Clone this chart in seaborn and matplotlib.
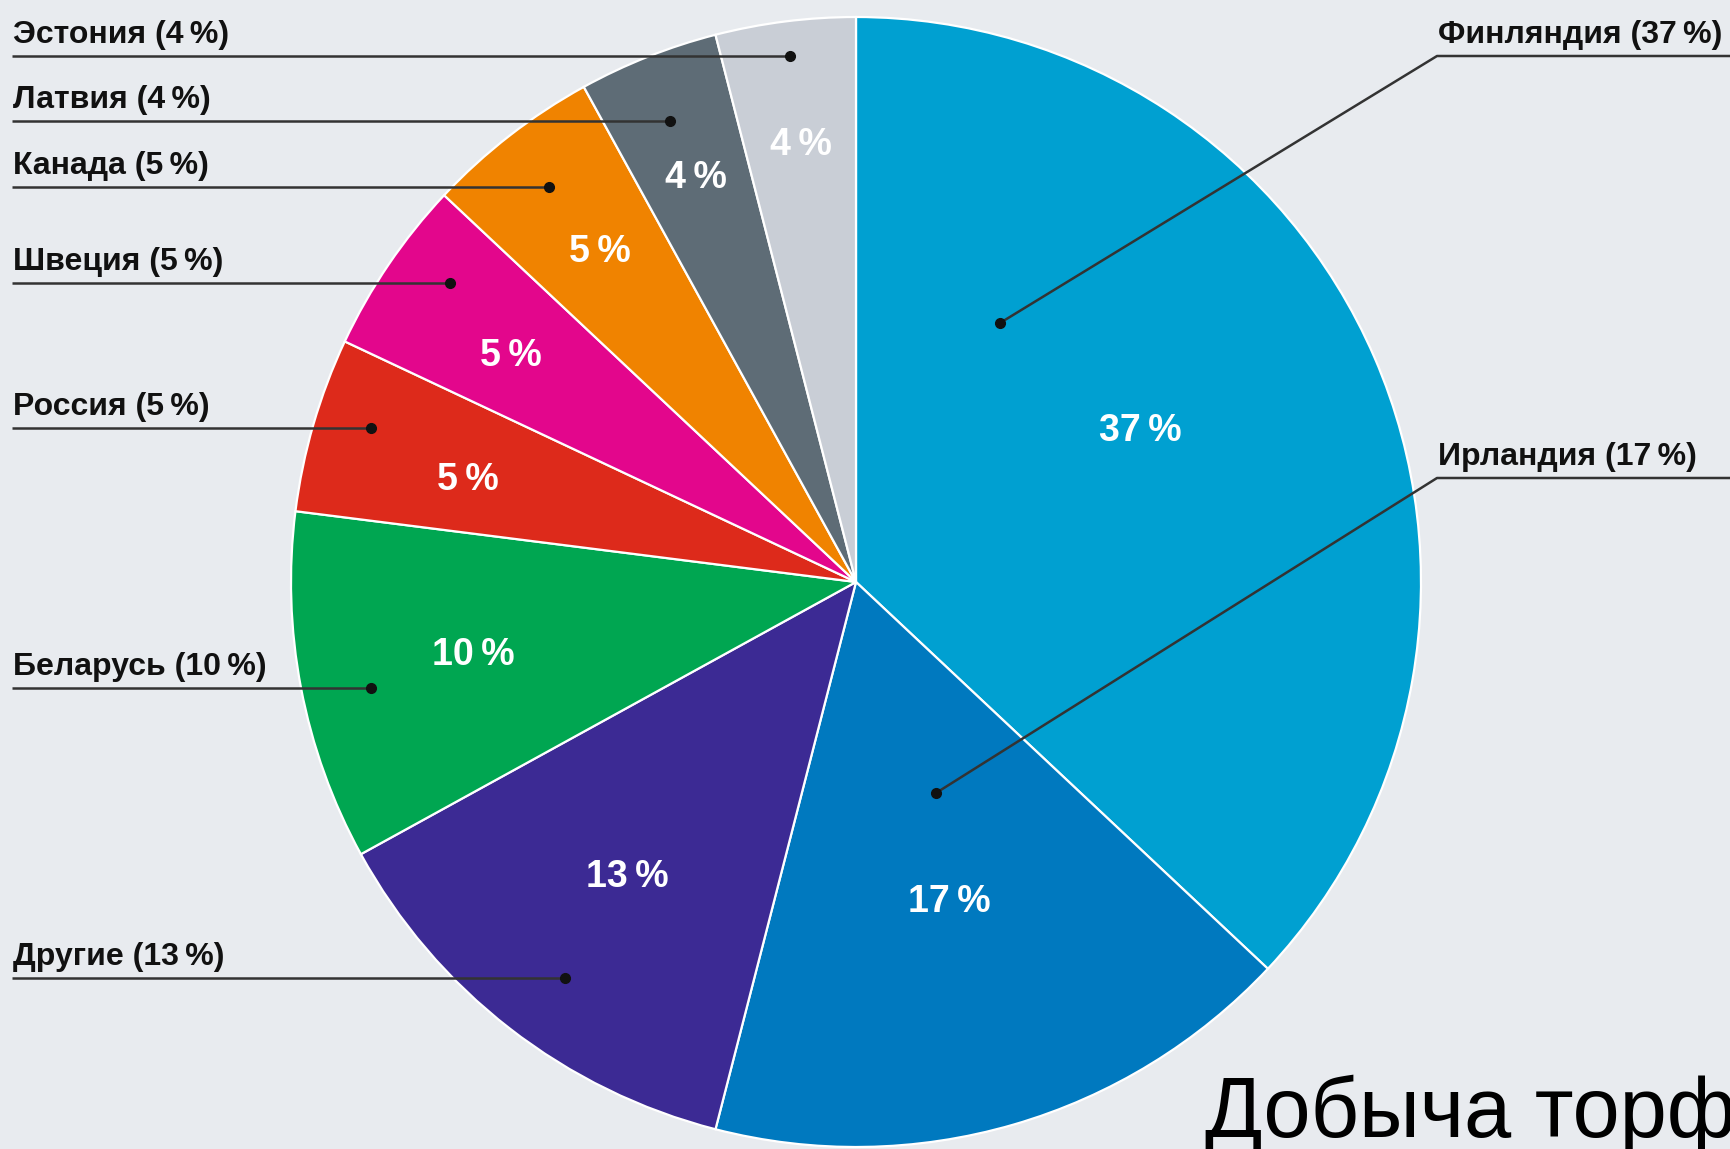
import matplotlib
matplotlib.use('Agg')

import numpy as np
import matplotlib.pyplot as plt
import seaborn as sns

# данные: доли стран в добыче торфа, по часовой стрелке от 12 часов
countries = ['Финляндия', 'Ирландия', 'Другие', 'Беларусь', 'Россия',
             'Швеция', 'Канада', 'Латвия', 'Эстония']
shares = [37, 17, 13, 10, 5, 5, 5, 4, 4]
colors = ['#00A0D1', '#0079BF', '#3C2A94', '#00A651', '#DD2A1B',
          '#E3068C', '#F08300', '#5E6C76', '#C9CED6']
title = 'Добыча торфа'

W, H = 1731, 1149
bg = '#E8EBEF'
thin = '\u2009'

sns.set_theme(style='white')
plt.rcParams['font.family'] = ['Liberation Sans', 'DejaVu Sans']
label_font = ['Liberation Sans', 'DejaVu Sans']

fig = plt.figure(figsize=(W / 100, H / 100), dpi=100, facecolor=bg)
ax = fig.add_axes([0, 0, 1, 1])
ax.set_facecolor(bg)

cx, cy, R = 856, 582, 565
# ось y перевёрнута (пиксельные координаты), поэтому старт -90 и против часовой
wedges, _ = ax.pie(shares, colors=colors, startangle=-90, counterclock=True,
                   center=(cx, cy), radius=R,
                   wedgeprops=dict(edgecolor='white', linewidth=1.6))
ax.set_xlim(0, W)
ax.set_ylim(H, 0)
ax.set_aspect('equal')
ax.axis('off')

# подписи процентов внутри секторов (доля радиуса, сдвиг угла в градусах)
pct_r = [0.57, 0.59, 0.66, 0.69, 0.71, 0.73, 0.74, 0.77, 0.78]
pct_dth = [-4.5, 0, 0, 0, -1.5, -1, 0, 0, 0]
for w, v, r, d in zip(wedges, shares, pct_r, pct_dth):
    th = np.deg2rad((w.theta1 + w.theta2) / 2 + d)
    ax.text(cx + r * R * np.cos(th), cy + r * R * np.sin(th), f'{v}{thin}%',
            color='white', fontsize=27, fontweight='bold', family=label_font,
            ha='center', va='center')

# выноски слева: (y линии, x точки)
left_layout = {
    'Эстония': (56, 790), 'Латвия': (121, 670), 'Канада': (187, 549),
    'Швеция': (283, 450), 'Россия': (428, 371), 'Беларусь': (688, 371),
    'Другие': (978, 565),
}
# выноски справа: (y линии, точка)
right_layout = {'Финляндия': (56, (1000, 323)), 'Ирландия': (478, (936, 793))}

line_c = '#333333'
for name, v in zip(countries, shares):
    lbl = f'{name} ({v}{thin}%)'
    if name in left_layout:
        ly, dx = left_layout[name]
        ax.plot([12, dx], [ly, ly], color=line_c, lw=1.8, solid_capstyle='butt')
        ax.plot(dx, ly, 'o', color='#111111', ms=7)
        ax.text(13, ly - 6, lbl, fontsize=23, fontweight='bold', family=label_font,
                color='#111111', ha='left', va='bottom')
    else:
        ly, (dx, dy) = right_layout[name]
        ax.plot([W, 1437, dx], [ly, ly, dy], color=line_c, lw=1.8)
        ax.plot(dx, dy, 'o', color='#111111', ms=7)
        ax.text(1438, ly - 6, lbl, fontsize=23, fontweight='bold', family=label_font,
                color='#111111', ha='left', va='bottom')

ax.text(1205, 1137, title, fontsize=61, color='black', ha='left', va='baseline',
        clip_on=False)

fig.savefig('out.png', dpi=100, facecolor=bg)
